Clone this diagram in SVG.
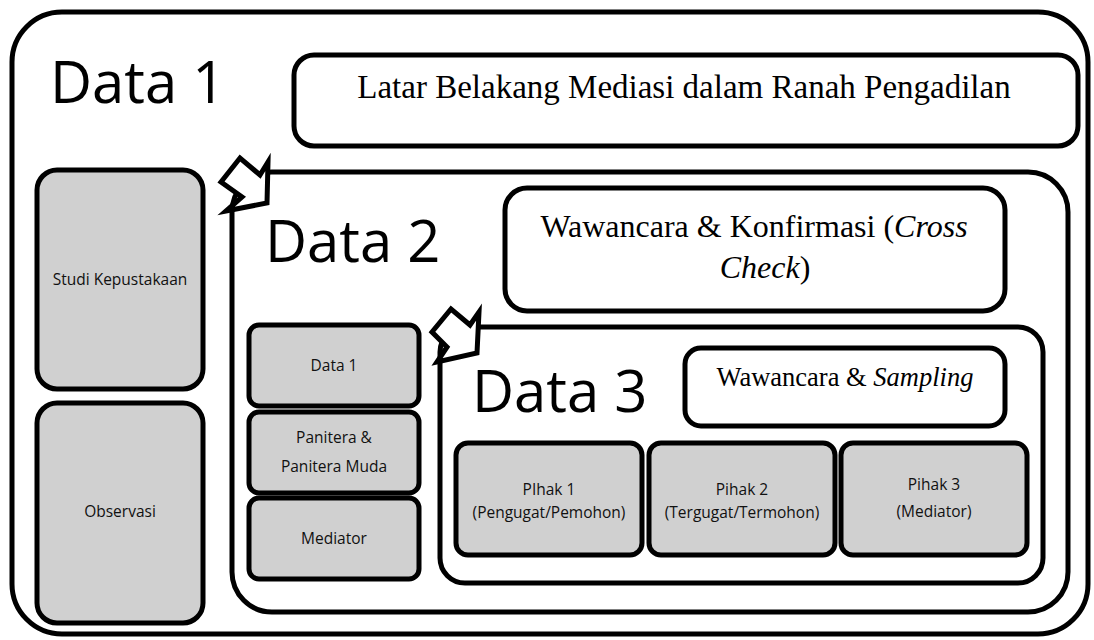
<svg xmlns="http://www.w3.org/2000/svg" width="1094" height="640" viewBox="0 0 1094 640">
<style>
.frame{fill:#fff;stroke:#000;stroke-width:5}
.gbox{fill:#d0d0d0;stroke:#000;stroke-width:5}
.big{font-family:"Open Sans","Liberation Sans",sans-serif;font-size:58px;fill:#000}
.lbl{font-family:"Open Sans","Liberation Sans",sans-serif;font-size:15.5px;fill:#111;text-anchor:middle}
.ser{font-family:"Liberation Serif","Times New Roman",serif;fill:#000}
.arrow{fill:#fff;stroke:#000;stroke-width:5;stroke-linejoin:miter}
</style>
<rect width="1094" height="640" fill="#fff"/>
<g id="data1">
<rect class="frame" x="12" y="12" width="1076" height="622" rx="50"/>
<text class="big" x="50" y="103">Data 1</text>
</g>
<g id="latar">
<rect class="frame" x="294" y="55" width="784" height="91" rx="20"/>
<text class="ser" x="684" y="98" font-size="33" text-anchor="middle">Latar Belakang Mediasi dalam Ranah Pengadilan</text>
</g>
<g id="studi">
<rect class="gbox" x="37" y="170" width="166" height="219" rx="20"/>
<text class="lbl" x="120" y="285">Studi Kepustakaan</text>
</g>
<g id="observasi">
<rect class="gbox" x="37" y="403" width="166" height="220" rx="20"/>
<text class="lbl" x="120" y="517">Observasi</text>
</g>
<g id="data2">
<rect class="frame" x="232" y="172" width="836" height="440" rx="40"/>
<text class="big" x="265" y="262">Data 2</text>
</g>
<g id="wawancara-konfirmasi">
<rect class="frame" x="505" y="188" width="500" height="123" rx="22"/>
<text class="ser" x="754" y="237" font-size="32" text-anchor="middle">Wawancara &amp; Konfirmasi (<tspan font-style="italic">Cross</tspan></text>
<text class="ser" x="765" y="278" font-size="32" text-anchor="middle"><tspan font-style="italic">Check</tspan>)</text>
</g>
<g id="d2-data1">
<rect class="gbox" x="249" y="325" width="170" height="81" rx="10"/>
<text class="lbl" x="334" y="371">Data 1</text>
</g>
<g id="panitera">
<rect class="gbox" x="249" y="412" width="170" height="81" rx="10"/>
<text class="lbl" x="334" y="443">Panitera &amp;</text>
<text class="lbl" x="334" y="472">Panitera Muda</text>
</g>
<g id="mediator">
<rect class="gbox" x="249" y="498" width="170" height="81" rx="10"/>
<text class="lbl" x="334" y="544">Mediator</text>
</g>
<g id="data3">
<rect class="frame" x="440" y="327" width="603" height="256" rx="25"/>
<text class="big" x="472" y="412">Data 3</text>
</g>
<g id="wawancara-sampling">
<rect class="frame" x="685" y="348" width="320" height="78" rx="16"/>
<text class="ser" x="845" y="386" font-size="26.5" text-anchor="middle">Wawancara &amp; <tspan font-style="italic">Sampling</tspan></text>
</g>
<g id="pihak1">
<rect class="gbox" x="456" y="443" width="186" height="112" rx="12"/>
<text class="lbl" x="549" y="495">PIhak 1</text>
<text class="lbl" x="549" y="518">(Pengugat/Pemohon)</text>
</g>
<g id="pihak2">
<rect class="gbox" x="649" y="443" width="186" height="112" rx="12"/>
<text class="lbl" x="742" y="495">Pihak 2</text>
<text class="lbl" x="742" y="518">(Tergugat/Termohon)</text>
</g>
<g id="pihak3">
<rect class="gbox" x="841" y="443" width="186" height="112" rx="12"/>
<text class="lbl" x="934" y="490">Pihak 3</text>
<text class="lbl" x="934" y="517">(Mediator)</text>
</g>
<g id="connectors">
<polygon class="arrow" points="221,182 240,158 260,175 268,162 267,203 226,211 242,197"/>
<polygon class="arrow" points="432,332 451,309 470,325 479,312 477,353 437,362 447,347"/>
</g>
</svg>
